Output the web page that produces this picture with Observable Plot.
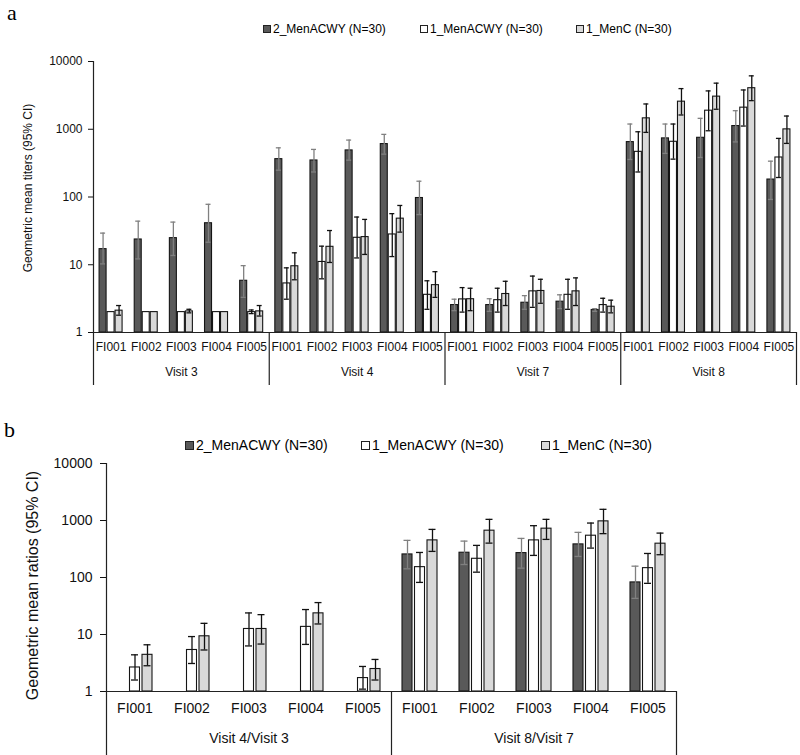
<!DOCTYPE html>
<html>
<head>
<meta charset="utf-8">
<script src="https://cdn.jsdelivr.net/npm/d3@7"></script>
<script src="https://cdn.jsdelivr.net/npm/@observablehq/plot@0.6"></script>
<style>
  html, body { margin: 0; padding: 0; background: #fff; }
  body { font-family: "Liberation Sans", Arial, sans-serif; color: #000; }
  #wrap { position: relative; width: 800px; height: 755px; overflow: hidden; background: #fff; }
  .plabel { position: absolute; font-family: "Liberation Serif", "Times New Roman", serif; font-size: 22px; line-height: normal; }
  .lg { position: absolute; display: flex; align-items: center; white-space: nowrap; line-height: 1; }
  .sw { display: inline-block; box-sizing: border-box; border: 1px solid #222; }
  .plot { position: absolute; left: 0; }
</style>
</head>
<body>
<div id="wrap">
  <div class="plabel" style="left:7px; top:0px;">a</div>
  <div class="plabel" style="left:4px; top:417px;">b</div>
  <div id="legA"></div>
  <div id="legB"></div>
  <div id="plotA" class="plot" style="top:45px;"></div>
  <div id="plotB" class="plot" style="top:450px;"></div>
</div>
<script>
// ---------- shared categories ----------
const fiLabels = ["FI001", "FI002", "FI003", "FI004", "FI005"];
const seriesNames = ["2_MenACWY (N=30)", "1_MenACWY (N=30)", "1_MenC (N=30)"];
const seriesFill = ["#595959", "#ffffff", "#d9d9d9"];
const yTicks = [1, 10, 100, 1000, 10000];

// ---------- panel a: geometric mean titers (visit-major, FI001..FI005 per visit) ----------
const visitsA = ["Visit 3", "Visit 4", "Visit 7", "Visit 8"];
const titleA = "Geometric mean titers (95% CI)";
const gmtA_2MenACWY = [17, 23.6, 24.7, 41, 5.8,   362, 346, 487, 604, 96.6,   2.54, 2.54, 2.75, 2.85, 2.15,   646, 733, 748, 1115, 181];
const loA_2MenACWY  = [10.3, 12.2, 13.7, 21.5, 3.3,   249, 234, 350, 429, 55,   2.1, 2.05, 2.2, 2.25, 2.05,   358, 440, 383, 650, 92];
const hiA_2MenACWY  = [29.3, 44, 42.6, 78, 9.7,   532, 504, 692, 840, 171,   3.1, 3.15, 3.5, 3.6, 2.25,   1194, 1194, 1449, 1879, 338];
const gmtA_1MenACWY = [2, 2, 2, 2, 2.0,   5.3, 11.0, 25, 28, 3.6,   3.08, 3.0, 4.05, 3.6, 2.54,   464, 653, 1879, 2083, 383];
const loA_1MenACWY  = [null, null, null, null, 1.9,   3.1, 6.2, 12.6, 13.2, 2.2,   2.0, 2.0, 2.35, 2.2, 2.0,   234, 362, 950, 1115, 194];
const hiA_1MenACWY  = [null, null, null, null, 2.15,   9.0, 18.8, 50.6, 56.8, 5.8,   4.6, 4.5, 6.8, 6.1, 3.2,   918, 1194, 3680, 3800, 733];
const gmtA_1MenC    = [2.1, 2, 2.05, 2, 2.05,   9.5, 18.4, 25.6, 47.9, 5.0,   3.1, 3.7, 4.1, 4.05, 2.4,   1449, 2553, 3030, 4036, 996];
const loA_1MenC     = [1.8, null, 1.95, null, 1.75,   6.0, 10.8, 14.2, 30.3, 3.3,   2.1, 2.5, 2.7, 2.5, 1.95,   899, 1624, 1973, 2644, 618];
const hiA_1MenC     = [2.5, null, 2.2, null, 2.5,   15, 32, 46.7, 75, 7.9,   4.5, 5.7, 6.1, 6.4, 3.0,   2361, 3981, 4790, 6140, 1567];

// ---------- panel b: geometric mean ratios ----------
const visitsB = ["Visit 4/Visit 3", "Visit 8/Visit 7"];
const titleB = "Geometric mean ratios (95% CI)";
const gmrB_2MenACWY = [null, null, null, null, null,   254, 272, 268, 381, 82];
const loB_2MenACWY  = [null, null, null, null, null,   142, 169, 146, 234, 43];
const hiB_2MenACWY  = [null, null, null, null, null,   448, 435, 485, 619, 158];
const gmrB_1MenACWY = [2.64, 5.35, 12.5, 13.6, 1.72,   152, 213, 448, 541, 146];
const loB_1MenACWY  = [1.59, 3.1, 6.3, 6.7, 1.1,   82, 124, 244, 328, 79];
const hiB_1MenACWY  = [4.4, 9.2, 23.9, 27.4, 2.75,   275, 366, 811, 902, 264];
const gmrB_1MenC    = [4.4, 9.3, 12.5, 23.5, 2.48,   448, 663, 719, 966, 392];
const loB_1MenC     = [2.83, 5.35, 6.8, 15.3, 1.59,   287, 401, 466, 588, 251];
const hiB_1MenC     = [6.6, 15.7, 22.3, 36.3, 3.65,   698, 1047, 1047, 1571, 601];

function buildRows(visits, vals, los, his) {
  const rows = [];
  visits.forEach((v, vi) => fiLabels.forEach((f, fi) => {
    const k = vi * fiLabels.length + fi;
    vals.forEach((arr, si) => {
      if (arr[k] != null) rows.push({key: v + "|" + f, s: si, value: arr[k], lo: los[si][k], hi: his[si][k]});
    });
  }));
  return rows;
}

function makePanel(o) {
  const keys = o.visits.flatMap(v => fiLabels.map(f => v + "|" + f));
  const bw = (o.width - o.ml - o.mr) / keys.length;
  const fh = o.height - o.mt - o.mb;
  const marks = [];
  for (let s = 0; s < 3; s++) {
    const off = (s - 1) * o.step;
    marks.push(Plot.barY(o.rows.filter(d => d.s === s), {
      x: "key", y1: yTicks[0], y2: "value", fill: seriesFill[s], stroke: "#151515", strokeWidth: 1.1,
      insetLeft: (bw - o.barW) / 2 + off, insetRight: (bw - o.barW) / 2 - off
    }));
  }
  for (let s = 0; s < 3; s++) {
    const off = (s - 1) * o.step;
    const err = o.rows.filter(d => d.s === s && d.lo != null);
    const col = s === 0 ? "#808080" : "#111";
    const ci = (bw - o.capW) / 2;
    marks.push(Plot.ruleX(err, {x: "key", y1: "lo", y2: "hi", dx: off, stroke: col, strokeWidth: 1.3}));
    marks.push(Plot.tickY(err, {x: "key", y: "hi", dx: off, insetLeft: ci, insetRight: ci, stroke: col, strokeWidth: 1.3}));
    marks.push(Plot.tickY(err, {x: "key", y: "lo", dx: off, insetLeft: ci, insetRight: ci, stroke: col, strokeWidth: 1.3}));
  }
  // axis & group box lines
  marks.push(Plot.ruleY([yTicks[0]], {stroke: "#222", strokeWidth: 1.2}));
  const firstKeys = o.visits.map(v => v + "|" + fiLabels[0]);
  marks.push(Plot.ruleX([firstKeys[0]], {dx: -bw / 2, insetBottom: -o.sepExt, stroke: "#222", strokeWidth: 1.2}));
  marks.push(Plot.ruleX(firstKeys.slice(1), {dx: -bw / 2, insetTop: fh, insetBottom: -o.sepExt, stroke: "#222", strokeWidth: 1.2}));
  marks.push(Plot.ruleX([keys[keys.length - 1]], {dx: bw / 2, insetTop: fh, insetBottom: -o.sepExt, stroke: "#222", strokeWidth: 1.2}));
  // labels
  marks.push(Plot.text(keys, {x: d => d, text: d => d.split("|")[1], frameAnchor: "bottom", dy: o.fiDy, fontSize: o.fontSize, fill: "#111"}));
  marks.push(Plot.text(o.visits, {x: v => v + "|" + fiLabels[2], text: d => d, frameAnchor: "bottom", dy: o.visitDy, fontSize: o.fontSize, fill: "#111"}));
  marks.push(Plot.text([o.title], {text: d => d, frameAnchor: "left", textAnchor: "middle", rotate: -90, dx: o.titleDx, dy: o.titleDy, fontSize: o.titleSize, fill: "#111"}));

  return Plot.plot({
    width: o.width, height: o.height,
    marginLeft: o.ml, marginRight: o.mr, marginTop: o.mt, marginBottom: o.mb,
    x: {domain: keys, padding: 0, round: false, axis: null},
    y: {type: "log", domain: [yTicks[0], yTicks[yTicks.length - 1]], ticks: yTicks, tickFormat: d => String(d),
        tickSize: o.tickSize, tickPadding: o.tickPad, label: null},
    style: {fontFamily: '"Liberation Sans", Arial, sans-serif', fontSize: o.fontSize + "px", color: "#111", background: "transparent", overflow: "visible"},
    marks
  });
}

const rowsA = buildRows(visitsA, [gmtA_2MenACWY, gmtA_1MenACWY, gmtA_1MenC], [loA_2MenACWY, loA_1MenACWY, loA_1MenC], [hiA_2MenACWY, hiA_1MenACWY, hiA_1MenC]);
const rowsB = buildRows(visitsB, [gmrB_2MenACWY, gmrB_1MenACWY, gmrB_1MenC], [loB_2MenACWY, loB_1MenACWY, loB_1MenC], [hiB_2MenACWY, hiB_1MenACWY, hiB_1MenC]);

document.getElementById("plotA").append(makePanel({
  visits: visitsA, rows: rowsA, width: 800, height: 347, ml: 93, mr: 4, mt: 16, mb: 60,
  barW: 7, step: 8, capW: 5, fontSize: 12, title: titleA, titleSize: 12, titleDx: -65, titleDy: -9,
  fiDy: 18, visitDy: 43, sepExt: 53, tickSize: 5, tickPad: 6
}));
document.getElementById("plotB").append(makePanel({
  visits: visitsB, rows: rowsB, width: 800, height: 305, ml: 106, mr: 124, mt: 13, mb: 64,
  barW: 10, step: 12.5, capW: 7, fontSize: 14, title: titleB, titleSize: 16, titleDx: -74, titleDy: 8,
  fiDy: 21, visitDy: 51, sepExt: 64, tickSize: 6, tickPad: 8
}));

// ---------- legends ----------
function legend(id, top, lefts, sw, fs) {
  const el = document.getElementById(id);
  seriesNames.forEach((n, i) => {
    const it = document.createElement("div");
    it.className = "lg";
    it.style.left = lefts[i] + "px";
    it.style.top = top + "px";
    it.style.fontSize = fs + "px";
    it.style.height = "16px";
    const s = document.createElement("span");
    s.className = "sw";
    s.style.width = sw + "px"; s.style.height = sw + "px";
    s.style.background = seriesFill[i];
    s.style.marginRight = "2px";
    const t = document.createElement("span");
    t.textContent = n;
    it.append(s, t);
    el.append(it);
  });
}
legend("legA", 21, [263, 420, 576], 8, 12);
legend("legB", 437, [185, 361, 541], 9, 14);
</script>
</body>
</html>
